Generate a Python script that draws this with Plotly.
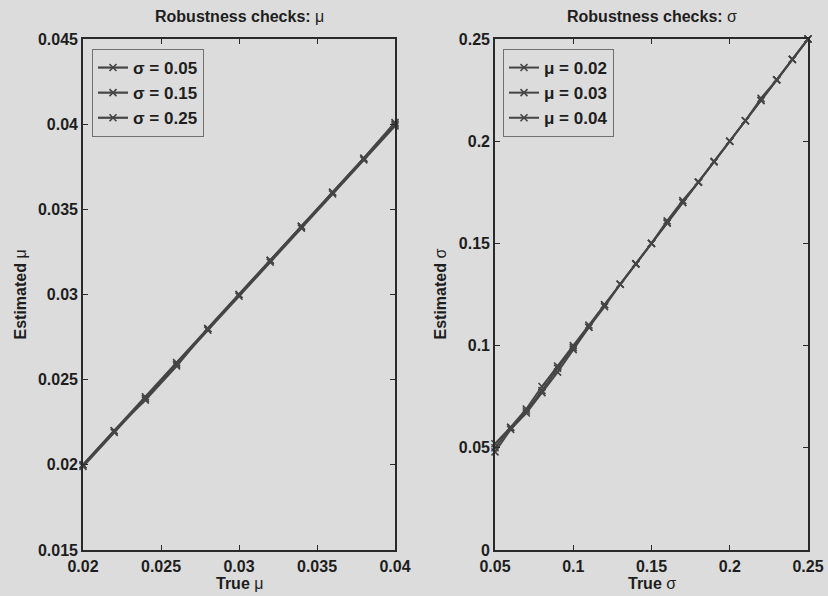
import plotly.graph_objects as go

# ---- data ----
true_mu = [0.020, 0.022, 0.024, 0.026, 0.028, 0.030, 0.032, 0.034, 0.036, 0.038, 0.040]
est_mu_sigma005 = [0.0200, 0.0220, 0.0240, 0.0260, 0.0280, 0.0300, 0.0320, 0.0340, 0.0360, 0.0380, 0.0400]
est_mu_sigma015 = [0.0199, 0.0219, 0.0239, 0.0259, 0.0279, 0.0299, 0.0319, 0.0339, 0.0359, 0.0379, 0.0399]
est_mu_sigma025 = [0.0200, 0.0220, 0.0238, 0.0258, 0.0280, 0.0300, 0.0320, 0.0340, 0.0360, 0.0380, 0.0401]
mu_legend = ["σ = 0.05", "σ = 0.15", "σ = 0.25"]

true_sigma = [0.05, 0.06, 0.07, 0.08, 0.09, 0.10, 0.11, 0.12, 0.13, 0.14, 0.15,
              0.16, 0.17, 0.18, 0.19, 0.20, 0.21, 0.22, 0.23, 0.24, 0.25]
est_sigma_mu002 = [0.050, 0.060, 0.069, 0.080, 0.090, 0.100, 0.110, 0.120, 0.130, 0.140, 0.150,
                   0.160, 0.170, 0.180, 0.190, 0.200, 0.210, 0.220, 0.230, 0.240, 0.250]
est_sigma_mu003 = [0.052, 0.060, 0.068, 0.078, 0.089, 0.099, 0.109, 0.120, 0.130, 0.140, 0.150,
                   0.161, 0.171, 0.180, 0.190, 0.200, 0.210, 0.221, 0.230, 0.240, 0.250]
est_sigma_mu004 = [0.048, 0.059, 0.067, 0.077, 0.087, 0.098, 0.109, 0.119, 0.130, 0.140, 0.150,
                   0.160, 0.170, 0.180, 0.190, 0.200, 0.210, 0.220, 0.230, 0.240, 0.250]
sigma_legend = ["μ = 0.02", "μ = 0.03", "μ = 0.04"]

mu_ticks = [0.02, 0.025, 0.03, 0.035, 0.04]
mu_yticks = [0.015, 0.02, 0.025, 0.03, 0.035, 0.04, 0.045]
sigma_ticks = [0.05, 0.1, 0.15, 0.2, 0.25]
sigma_yticks = [0, 0.05, 0.1, 0.15, 0.2, 0.25]

# ---- style ----
BG = "#dcdcdc"
LINE = "#454545"
TXT = "#1e1e1e"
FONT = "Liberation Sans, Arial, sans-serif"
W, H = 828, 596

def px(x):
    return x / W

def py(y):
    return 1 - y / H

fig = go.Figure()

for ys, name in zip([est_mu_sigma005, est_mu_sigma015, est_mu_sigma025], mu_legend):
    fig.add_trace(go.Scatter(
        x=true_mu, y=ys, name=f"<b>{name}</b>", mode="lines+markers",
        line=dict(color=LINE, width=2.2),
        marker=dict(symbol="x-thin", size=7, line=dict(color=LINE, width=1.6)),
        xaxis="x", yaxis="y", legend="legend", cliponaxis=False))

for ys, name in zip([est_sigma_mu002, est_sigma_mu003, est_sigma_mu004], sigma_legend):
    fig.add_trace(go.Scatter(
        x=true_sigma, y=ys, name=f"<b>{name}</b>", mode="lines+markers",
        line=dict(color=LINE, width=2),
        marker=dict(symbol="x-thin", size=7, line=dict(color=LINE, width=1.6)),
        xaxis="x2", yaxis="y2", legend="legend2", cliponaxis=False))

axis_common = dict(
    showgrid=False, zeroline=False, showline=True, linecolor="#2a2a2a", linewidth=1.6,
    mirror="ticks", ticks="inside", ticklen=5, tickwidth=1.2, tickcolor="#2a2a2a",
    tickfont=dict(family=FONT, size=16, color=TXT, weight="bold"),
    automargin=False,
)

L1, R1, L2, R2, TOP, BOT = 83, 395, 495, 808, 39, 550

fig.update_layout(
    width=W, height=H,
    margin=dict(l=0, r=0, t=0, b=0, autoexpand=False),
    paper_bgcolor=BG, plot_bgcolor=BG,
    font=dict(family=FONT, color=TXT),
    showlegend=True,
    xaxis=dict(domain=[px(L1), px(R1)], range=[0.02, 0.04], tickvals=mu_ticks,
               anchor="y", ticklabelstandoff=1, **axis_common),
    yaxis=dict(domain=[py(BOT), py(TOP)], range=[0.015, 0.045], tickvals=mu_yticks,
               anchor="x", ticklabelstandoff=0, **axis_common),
    xaxis2=dict(domain=[px(L2), px(R2)], range=[0.05, 0.25], tickvals=sigma_ticks,
                anchor="y2", ticklabelstandoff=1, **axis_common),
    yaxis2=dict(domain=[py(BOT), py(TOP)], range=[0, 0.25], tickvals=sigma_yticks,
                anchor="x2", ticklabelstandoff=0, **axis_common),
    legend=dict(x=px(92), y=py(49), xanchor="left", yanchor="top",
                bgcolor=BG, bordercolor="#707070", borderwidth=1,
                font=dict(family=FONT, size=17, color=TXT),
                itemwidth=30, tracegroupgap=0),
    legend2=dict(x=px(503), y=py(49), xanchor="left", yanchor="top",
                 bgcolor=BG, bordercolor="#707070", borderwidth=1,
                 font=dict(family=FONT, size=17, color=TXT),
                 itemwidth=30, tracegroupgap=0),
    annotations=[
        dict(text="<b>Robustness checks:</b> μ", x=px((L1 + R1) / 2), y=py(17),
             xref="paper", yref="paper", showarrow=False, xanchor="center", yanchor="middle",
             font=dict(family=FONT, size=16, color=TXT)),
        dict(text="<b>Robustness checks:</b> σ", x=px((L2 + R2) / 2), y=py(17),
             xref="paper", yref="paper", showarrow=False, xanchor="center", yanchor="middle",
             font=dict(family=FONT, size=16, color=TXT)),
        dict(text="<b>True</b> μ", x=px((L1 + R1) / 2), y=py(583),
             xref="paper", yref="paper", showarrow=False, xanchor="center", yanchor="middle",
             font=dict(family=FONT, size=16, color=TXT)),
        dict(text="<b>True</b> σ", x=px((L2 + R2) / 2), y=py(583),
             xref="paper", yref="paper", showarrow=False, xanchor="center", yanchor="middle",
             font=dict(family=FONT, size=16, color=TXT)),
        dict(text="<b>Estimated</b> μ", x=px(20), y=py((TOP + BOT) / 2), textangle=-90,
             xref="paper", yref="paper", showarrow=False, xanchor="center", yanchor="middle",
             font=dict(family=FONT, size=16, color=TXT)),
        dict(text="<b>Estimated</b> σ", x=px(440), y=py((TOP + BOT) / 2), textangle=-90,
             xref="paper", yref="paper", showarrow=False, xanchor="center", yanchor="middle",
             font=dict(family=FONT, size=16, color=TXT)),
    ],
)

fig.write_html("out.html")
